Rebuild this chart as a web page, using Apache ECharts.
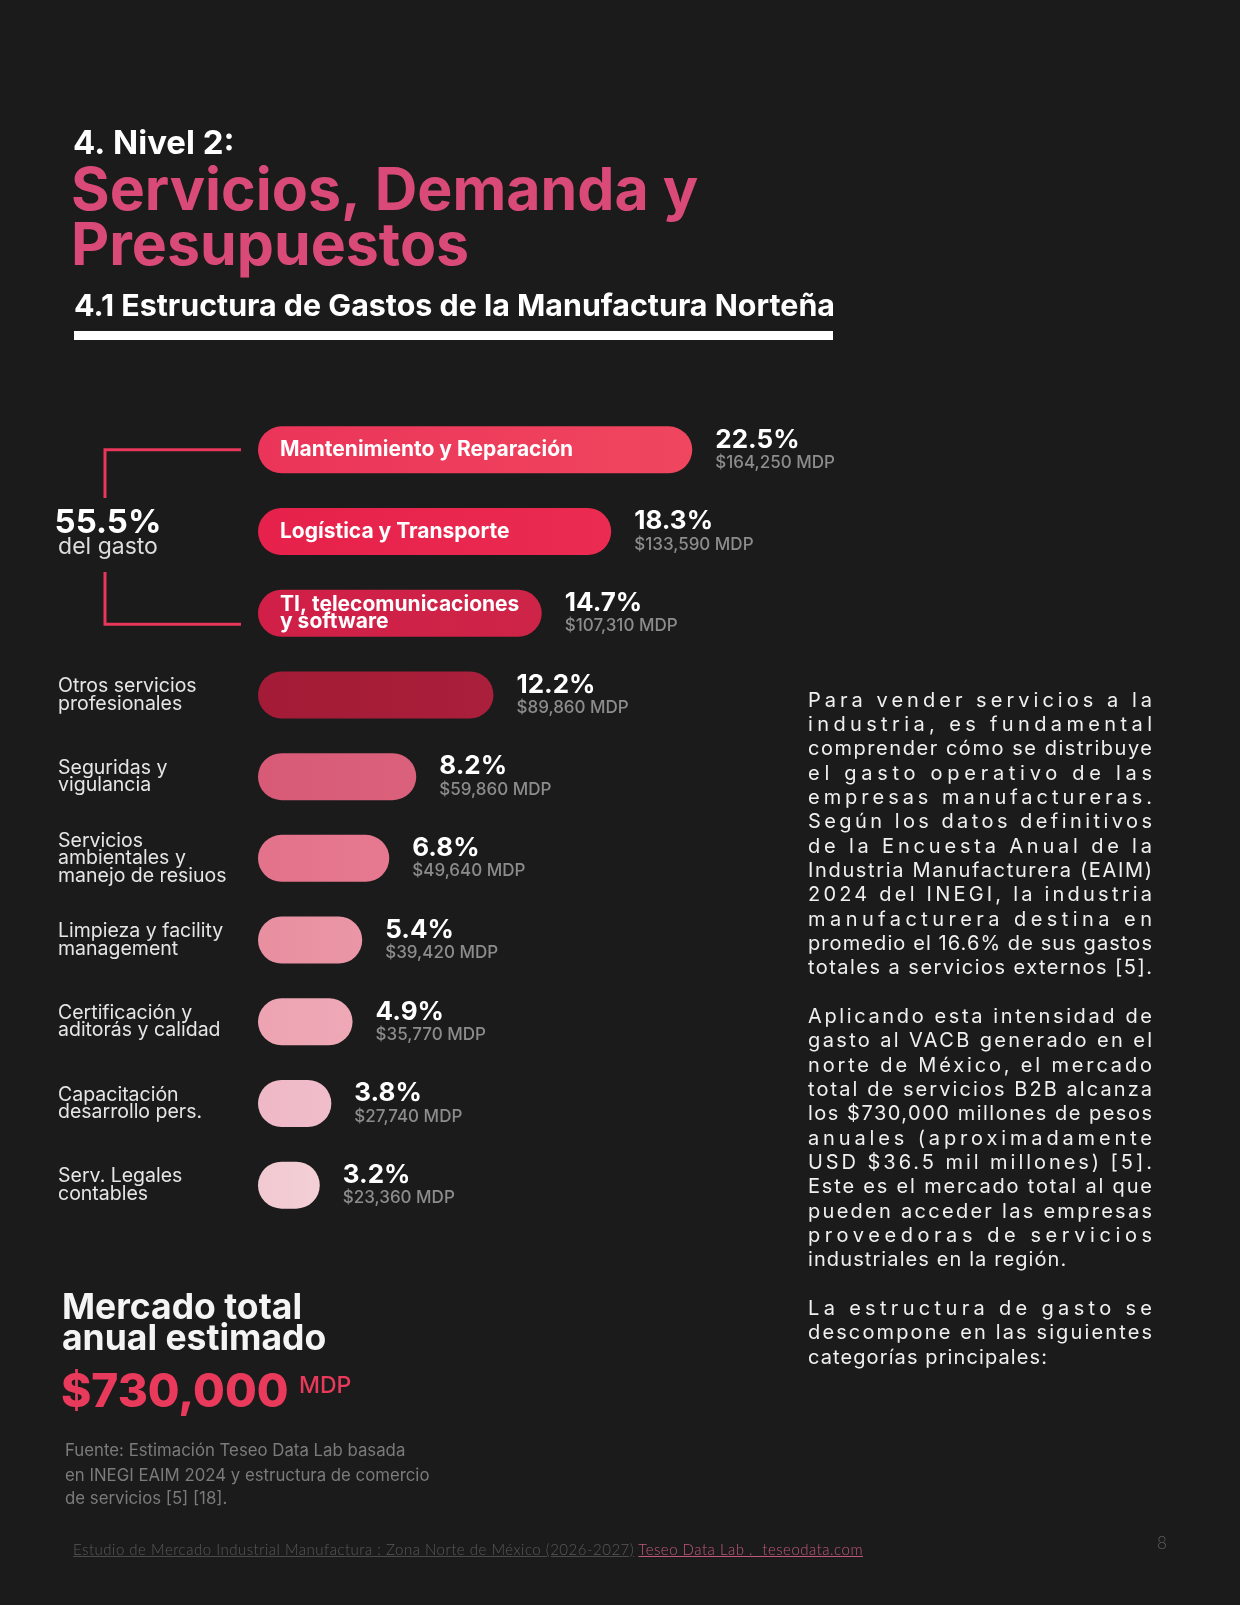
<!DOCTYPE html>
<html>
<head>
<meta charset="utf-8">
<script src="https://cdn.jsdelivr.net/npm/echarts@6/dist/echarts.min.js"></script>
<style>
html,body{margin:0;padding:0;background:#1b1b1b;}
#chart{position:absolute;left:0;top:0;width:1240px;height:1605px;}
#para{position:absolute;left:808px;top:687.5px;width:344px;font-family:Inter,"Noto Sans",sans-serif;font-size:20px;color:#f0f0f0;}
#para div{height:24.35px;line-height:24.35px;white-space:nowrap;}
#para span{display:inline-block;}
#footer{position:absolute;left:73px;top:1540px;font-family:Lato,"Open Sans",sans-serif;font-weight:300;font-size:15px;letter-spacing:0.5px;line-height:18px;white-space:nowrap;}
#footer .g{color:#5a5a5a;text-decoration:underline;text-decoration-color:#4a4a4a;}
#footer .p{color:#c0587d;text-decoration:underline;}
#pagenum{position:absolute;left:1157px;top:1533px;font-family:Lato,sans-serif;font-weight:300;font-size:17px;line-height:20px;color:#5c5c5c;}
</style>
</head>
<body>
<div id="chart"></div>
<div id="para"></div>
<div id="footer"><span class="g">Estudio de Mercado Industrial Manufactura : Zona Norte de México (2026-2027)</span> <span class="p">Teseo Data Lab .&nbsp; teseodata.com</span></div>
<div id="pagenum">8</div>
<script>
// ---------- DATA ----------
const categories = [
  'Mantenimiento y Reparación',
  'Logística y Transporte',
  'TI, telecomunicaciones\ny software',
  'Otros servicios\nprofesionales',
  'Seguridas y\nvigulancia',
  'Servicios\nambientales y\nmanejo de resiuos',
  'Limpieza y facility\nmanagement',
  'Certificación y\naditorás y calidad',
  'Capacitación\ndesarrollo pers.',
  'Serv. Legales\ncontables'
];
const shares = [22.5, 18.3, 14.7, 12.2, 8.2, 6.8, 5.4, 4.9, 3.8, 3.2];
const amountsMDP = [164250, 133590, 107310, 89860, 59860, 49640, 39420, 35770, 27740, 23360];
const topGroupCount = 3;
const topGroupLabel = '55.5%';
const topGroupSub = 'del gasto';
const totalMarket = '$730,000';
const totalUnit = 'MDP';

// ---------- STYLES ----------
const barColors = [
  ['#eb3459', '#f0465f'],
  ['#e6214b', '#eb2b51'],
  ['#d11f48', '#cd2447'],
  ['#a31b36', '#aa1f3b'],
  ['#d85a77', '#da617b'],
  ['#e3728b', '#e6798f'],
  ['#e88fa0', '#ea96a6'],
  ['#eda3b2', '#eea8b6'],
  ['#efb8c6', '#f0bdca'],
  ['#f1c9d1', '#f3cfd6']
];
const FONT = 'Inter, "Noto Sans", sans-serif';

const chart = echarts.init(document.getElementById('chart'), null, {renderer: 'canvas'});

function txt(id, text, x, baseline, size, weight, color, align) {
  return {
    type: 'text', id: id, x: x, y: baseline - 0.36 * size, silent: true,
    style: {
      text: text, fill: color, fontSize: size, fontWeight: weight, fontFamily: FONT,
      align: align || 'left', verticalAlign: 'middle'
    }
  };
}

const fmtAmount = v => '$' + v.toLocaleString('en-US') + ' MDP';

const option = {
  backgroundColor: '#1b1b1b',
  animation: false,
  grid: {left: 258, width: 579, top: 409, height: 817, containLabel: false},
  xAxis: {type: 'value', min: 0, max: 30, show: false},
  yAxis: {
    type: 'category', data: categories, inverse: true,
    axisLine: {show: false}, axisTick: {show: false}, splitLine: {show: false},
    axisLabel: {
      formatter: (v, i) => (i < topGroupCount ? '' : v),
      align: 'left', margin: 200, color: '#e6e6e6',
      fontSize: 19.5, lineHeight: 17.5, fontFamily: FONT
    }
  },
  series: [
    {
      type: 'bar', barWidth: 47, z: 2,
      data: shares.map((v, i) => ({
        value: v,
        itemStyle: {
          borderRadius: 23.5,
          color: new echarts.graphic.LinearGradient(0, 0, 1, 0, [
            {offset: 0, color: barColors[i][0]}, {offset: 1, color: barColors[i][1]}
          ])
        }
      })),
      label: {
        show: true, position: 'insideLeft', distance: 22,
        formatter: p => (p.dataIndex < topGroupCount ? categories[p.dataIndex] : ''),
        color: '#ffffff', fontSize: 21, fontWeight: 700, fontFamily: FONT, lineHeight: 17
      }
    },
    {
      type: 'bar', barWidth: 47, barGap: '-100%', z: 3,
      itemStyle: {color: 'rgba(0,0,0,0)'},
      data: shares,
      label: {
        show: true, position: 'right', distance: 23,
        formatter: p => '{p|' + shares[p.dataIndex].toFixed(1) + '%}\n{m|' + fmtAmount(amountsMDP[p.dataIndex]) + '}',
        rich: {
          p: {fontSize: 26, fontWeight: 700, color: '#ffffff', lineHeight: 26, fontFamily: FONT},
          m: {fontSize: 17, fontWeight: 500, color: '#8c8c8c', lineHeight: 20, fontFamily: FONT}
        }
      }
    }
  ]
};
chart.setOption(option);

// ---------- annotations (bracket + titles) ----------
const yA = chart.convertToPixel({yAxisIndex: 0}, 0);
const yC = chart.convertToPixel({yAxisIndex: 0}, topGroupCount - 1) + 11;
const mid = (yA + yC) / 2;
const bx = 105, bxr = 241, pink = '#e8375a';
const lineStyle = {stroke: pink, lineWidth: 3};

const graphics = [
  {type: 'polyline', id: 'br1', silent: true, shape: {points: [[bxr, yA], [bx, yA], [bx, mid - 39]]}, style: lineStyle},
  {type: 'polyline', id: 'br2', silent: true, shape: {points: [[bx, mid + 35], [bx, yC], [bxr, yC]]}, style: lineStyle},
  txt('g1', topGroupLabel, 108, mid - 2, 33, 700, '#ffffff', 'center'),
  txt('g2', topGroupSub, 108, mid + 18, 23, 400, '#dcdcdc', 'center'),

  txt('t1', '4. Nivel 2:', 73, 156, 33, 700, '#ffffff'),
  txt('t2', 'Servicios, Demanda y', 71, 214, 59, 700, '#da4a79'),
  txt('t3', 'Presupuestos', 71, 269, 59, 700, '#da4a79'),
  txt('t4', '4.1 Estructura de Gastos de la Manufactura Norteña', 74, 318, 30.4, 700, '#ffffff'),
  {type: 'rect', id: 'rule', silent: true, shape: {x: 74, y: 331, width: 759, height: 9}, style: {fill: '#ffffff'}},

  txt('m1', 'Mercado total', 62, 1321, 35.5, 700, '#f4f4f4'),
  txt('m2', 'anual estimado', 62, 1352, 35.5, 700, '#f4f4f4'),
  txt('m3', totalMarket, 61, 1410, 46, 800, '#ea3a5c'),
  txt('m4', totalUnit, 299, 1394, 23, 500, '#ea3a5c'),
  txt('f1', 'Fuente: Estimación Teseo Data Lab basada', 65, 1457, 16.8, 400, '#7b7b7b'),
  txt('f2', 'en INEGI EAIM 2024 y estructura de comercio', 65, 1482, 16.8, 400, '#7b7b7b'),
  txt('f3', 'de servicios [5] [18].', 65, 1505, 16.8, 400, '#7b7b7b')
];
chart.setOption({graphic: graphics});

// ---------- right paragraph (justified by letter spacing) ----------
const paraLines = [
  ['Para vender servicios a la', 1],
  ['industria, es fundamental', 1],
  ['comprender cómo se distribuye', 1],
  ['el gasto operativo de las', 1],
  ['empresas manufactureras.', 1],
  ['Según los datos definitivos', 1],
  ['de la Encuesta Anual de la', 1],
  ['Industria Manufacturera (EAIM)', 1],
  ['2024 del INEGI, la industria', 1],
  ['manufacturera destina en', 1],
  ['promedio el 16.6% de sus gastos', 1],
  ['totales a servicios externos [5].', 1],
  ['', 0],
  ['Aplicando esta intensidad de', 1],
  ['gasto al VACB generado en el', 1],
  ['norte de México, el mercado', 1],
  ['total de servicios B2B alcanza', 1],
  ['los $730,000 millones de pesos', 1],
  ['anuales (aproximadamente', 1],
  ['USD $36.5 mil millones) [5].', 1],
  ['Este es el mercado total al que', 1],
  ['pueden acceder las empresas', 1],
  ['proveedoras de servicios', 1],
  ['industriales en la región.', 0],
  ['', 0],
  ['La estructura de gasto se', 1],
  ['descompone en las siguientes', 1],
  ['categorías principales:', 0]
];
const para = document.getElementById('para');
const W = 344;
paraLines.forEach(([t, j]) => {
  const d = document.createElement('div');
  const s = document.createElement('span');
  s.textContent = t;
  d.appendChild(s);
  para.appendChild(d);
  if (j && t.length > 1) {
    const w = s.getBoundingClientRect().width;
    const n = Array.from(t).length;
    s.style.letterSpacing = ((W - w) / (n - 1)) + 'px';
  } else if (t.length > 1) {
    s.style.letterSpacing = '1.1px';
  }
});
</script>
</body>
</html>
